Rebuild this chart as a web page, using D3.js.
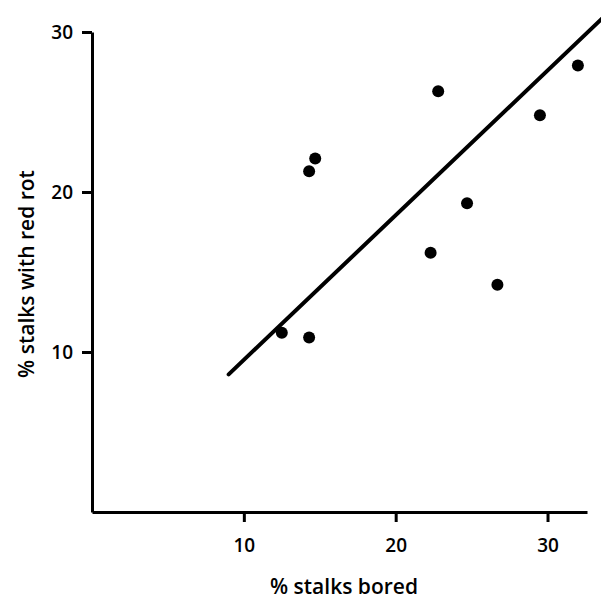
<!DOCTYPE html>
<html>
<head>
<meta charset="utf-8">
<script src="https://cdn.jsdelivr.net/npm/d3@7"></script>
<style>
  body { margin: 0; background: #fff; }
  text { font-family: "Open Sans", sans-serif; font-weight: 600; fill: #000; }
</style>
</head>
<body>
<div id="chart"></div>
<script>
// % stalks bored vs % stalks with red rot
const boredPct = [12.5, 14.3, 14.3, 14.7, 22.3, 22.8, 24.7, 26.7, 29.5, 32.0];
const redRotPct = [11.2, 10.9, 21.3, 22.1, 16.2, 26.3, 19.3, 14.2, 24.8, 27.9];
const fitLine = [[9.0, 8.6], [33.6, 30.85]];
const xTicks = [10, 20, 30];
const yTicks = [10, 20, 30];

const width = 601, height = 601;

const svg = d3.select("#chart")
  .append("svg")
  .attr("width", width)
  .attr("height", height);

const x = d3.scaleLinear().domain([0, 32.6]).range([92, 587]);
const y = d3.scaleLinear().domain([0, 30]).range([512, 32]);

const xAxis = d3.axisBottom(x)
  .tickValues(xTicks)
  .tickSize(10)
  .tickPadding(17)
  .tickSizeOuter(0);

const yAxis = d3.axisLeft(y)
  .tickValues(yTicks)
  .tickSize(10)
  .tickPadding(9)
  .tickSizeOuter(0);

const gx = svg.append("g")
  .attr("transform", "translate(0," + y(0) + ")")
  .call(xAxis);

const gy = svg.append("g")
  .attr("transform", "translate(" + x(0) + ",0)")
  .call(yAxis);

[gx, gy].forEach(g => {
  g.attr("font-family", null).attr("font-size", null);
  g.select(".domain").attr("stroke", "#000").attr("stroke-width", 3);
  g.selectAll(".tick line").attr("stroke", "#000").attr("stroke-width", 3);
  g.selectAll(".tick text")
    .style("font-size", "19px")
    .attr("fill", "#000");
});

// axis titles
svg.append("text")
  .attr("x", 344)
  .attr("y", 594)
  .attr("text-anchor", "middle")
  .style("font-size", "21px")
  .text("% stalks bored");

svg.append("text")
  .attr("transform", "translate(34,274) rotate(-90)")
  .attr("text-anchor", "middle")
  .style("font-size", "21px")
  .text("% stalks with red rot");

// fitted line (runs off the right edge)
const line = d3.line().x(d => x(d[0])).y(d => y(d[1]));
svg.append("path")
  .datum(fitLine)
  .attr("d", line)
  .attr("fill", "none")
  .attr("stroke", "#000")
  .attr("stroke-width", 4)
  .attr("stroke-linecap", "round");

// points
svg.append("g")
  .selectAll("circle")
  .data(boredPct.map((b, i) => [b, redRotPct[i]]))
  .enter()
  .append("circle")
  .attr("cx", d => x(d[0]))
  .attr("cy", d => y(d[1]))
  .attr("r", 6)
  .attr("fill", "#000");
</script>
</body>
</html>
